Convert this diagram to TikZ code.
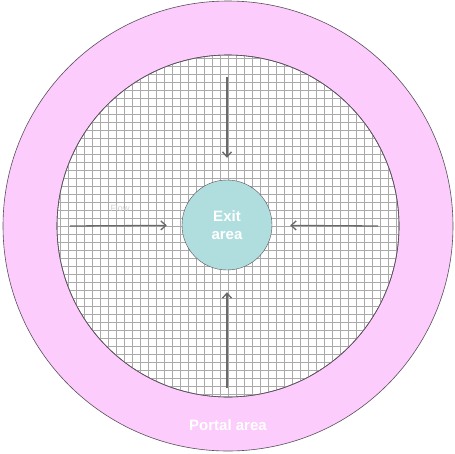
\documentclass[tikz,border=0pt]{standalone}
\usepackage{fontspec}
\setmainfont{Liberation Sans}
\usetikzlibrary{arrows.meta,positioning}
\definecolor{portalpink}{RGB}{252,204,252}
\definecolor{exitteal}{RGB}{176,222,222}
\definecolor{gridgray}{RGB}{170,170,170}
\definecolor{rimgray}{RGB}{90,80,90}
\definecolor{flowgray}{RGB}{105,105,105}

\begin{document}
\begin{tikzpicture}[x=1pt, y=-1pt,
    flowarrow/.style={-{Straight Barb[length=5pt, width=9pt]}, flowgray, line width=1.3pt},
    every node/.style={font=\bfseries, text=white}]
    \useasboundingbox (0,0) rectangle (455,453);
    % portal ring and grid area
    \fill[portalpink, draw=rimgray, line width=0.6pt] (228,226) circle [radius=225];
    \fill[white, draw=rimgray, line width=0.6pt] (228,226) circle [radius=171];
    \begin{scope}
        \clip (228,226) circle [radius=171];
        \foreach \g in {0,...,45} {
            \draw[gridgray, line width=0.6pt] (52+8*\g,50) -- (52+8*\g,410);
            \draw[gridgray, line width=0.6pt] (50,50+8*\g) -- (410,50+8*\g);
        }
    \end{scope}
    \draw[rimgray, line width=0.6pt] (228,226) circle [radius=171];
    % exit area
    \node[circle, draw=rimgray, fill=exitteal, minimum size=90pt, inner sep=0pt, align=center,
          font=\fontsize{15}{18}\selectfont\bfseries] (exit) at (227,225) {Exit\\area};
    \coordinate (ftop) at (227,77);
    \coordinate (fbottom) at (227,388);
    \coordinate (fleft) at (70,226);
    \coordinate (fright) at (378,226);
    \draw[flowarrow, shorten >=22pt] (ftop) -- (exit);
    \draw[flowarrow, shorten >=22pt] (fbottom) -- (exit);
    \draw[flowarrow, shorten >=15pt] (fleft) -- (exit);
    \draw[flowarrow, shorten >=18pt] (fright) -- (exit);
    \node[font=\fontsize{9}{11}\selectfont, text=gray!35] (flow) at (120,208) {Flow};
    \node[font=\fontsize{15}{18}\selectfont\bfseries] (portal) at (228,425) {Portal area};
\end{tikzpicture}
\end{document}
